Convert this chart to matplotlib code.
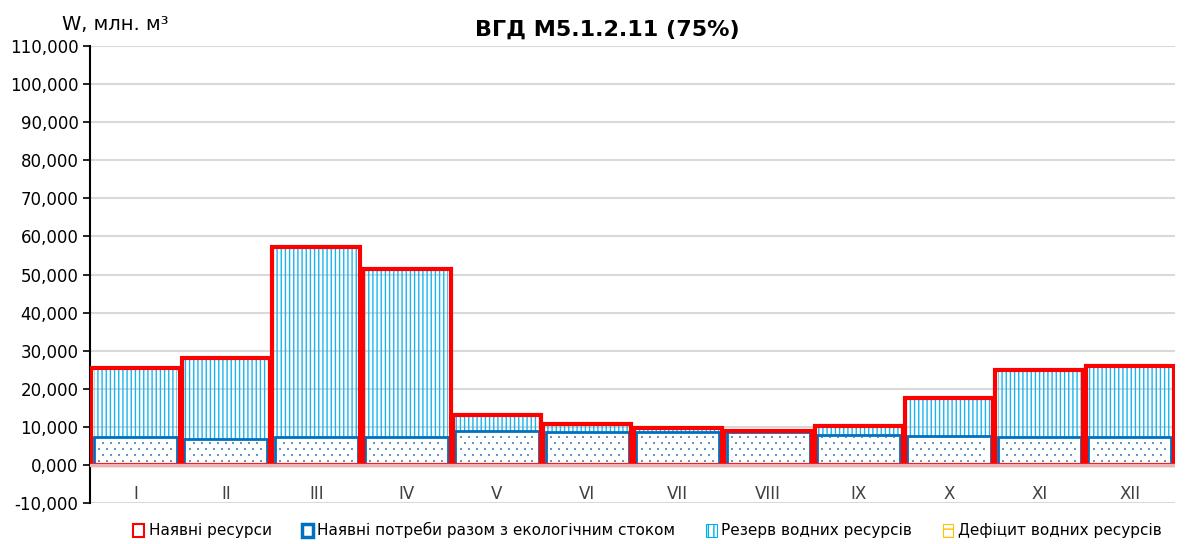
import numpy as np
import matplotlib.pyplot as plt
from matplotlib.patches import Patch
from matplotlib.ticker import FuncFormatter, MultipleLocator

# Дані (млн. м³)
months = ['I', 'II', 'III', 'IV', 'V', 'VI', 'VII', 'VIII', 'IX', 'X', 'XI', 'XII']
resources = [25.5, 28.1, 57.2, 51.4, 13.1, 10.8, 9.7, 8.9, 10.2, 17.6, 24.9, 26.0]
needs = [7.3, 6.8, 7.3, 7.3, 8.9, 8.6, 8.7, 8.7, 7.9, 7.6, 7.3, 7.3]
deficit = [0, 0, 0, 0, 0, 0, 0, 0, 0, 0, 0, 0]

reserve = [max(r - n, 0) for r, n in zip(resources, needs)]
x = list(range(len(months)))

plt.rcParams['font.family'] = ['DejaVu Sans']

fig = plt.figure(figsize=(11.88, 5.44), dpi=100)
ax = fig.add_axes([0.076, 0.0754, 0.913, 0.84])

W = 0.92
# Наявні потреби (точковий візерунок)
ax.bar(x, needs, width=W, color='white', edgecolor='#0070C0', linewidth=2, zorder=3)
for i, n in enumerate(needs):
    rows = np.arange(1.0, n - 0.4, 1.6)
    for k, yy in enumerate(rows):
        off = 0.0 if k % 2 == 0 else 0.044
        xs = np.arange(i - W / 2 + 0.06 + off, i + W / 2 - 0.04, 0.088)
        ax.scatter(xs, np.full(len(xs), yy), s=2.2, marker='s', color='#2E75B6',
                   alpha=0.75, linewidths=0, zorder=3)

# Резерв (вертикальні лінії)
plt.rcParams['hatch.linewidth'] = 1.0
ax.bar(x, reserve, bottom=needs, width=W, color='none', edgecolor='#19B4F0', hatch='||||',
       linewidth=0, zorder=2)
# Дефіцит
ax.bar(x, deficit, bottom=needs, width=W, color='none', edgecolor='#FFC000', hatch='--',
       linewidth=0, zorder=2)
# Наявні ресурси (червоний контур)
ax.bar(x, resources, width=0.975, color='none', edgecolor='#FF0000', linewidth=3, zorder=4)

ax.set_xlim(-0.5, len(months) - 0.5)
ax.set_ylim(-10, 110)
ax.yaxis.set_major_locator(MultipleLocator(10))
ax.yaxis.set_major_formatter(FuncFormatter(lambda v, p: f'{v:.3f}'.replace('.', ',')))
ax.grid(axis='y', color='#D9D9D9', linewidth=1.5, zorder=0)
ax.set_axisbelow(True)
ax.axhline(0, color='#ECB4B4', linewidth=2.4, zorder=5)

for s in ['top', 'right', 'bottom']:
    ax.spines[s].set_visible(False)
ax.spines['left'].set_linewidth(1.5)
ax.tick_params(axis='y', labelsize=12, length=5, width=1.2, colors='black')
ax.set_xticks([])

for i, m in enumerate(months):
    ax.text(i, -7.6, m, ha='center', va='center', fontsize=12, color='#404040')

fig.text(0.511, 0.945, 'ВГД М5.1.2.11 (75%)', ha='center', va='center', fontsize=16, fontweight='bold')
fig.text(0.052, 0.955, 'W, млн. м³', ha='left', va='center', fontsize=14)

handles = [
    Patch(facecolor='white', edgecolor='#FF0000', linewidth=1.5, label='Наявні ресурси'),
    Patch(facecolor='white', edgecolor='#0070C0', linewidth=2.5, label='Наявні потреби разом з екологічним стоком'),
    Patch(facecolor='white', edgecolor='#00B0F0', hatch='|||', linewidth=0.8, label='Резерв водних ресурсів'),
    Patch(facecolor='white', edgecolor='#FFC000', hatch='--', linewidth=0.8, label='Дефіцит водних ресурсів'),
]
fig.legend(handles=handles, loc='center', bbox_to_anchor=(0.545, 0.025), ncol=4, frameon=False,
           fontsize=11, handlelength=0.7, handleheight=0.9, handletextpad=0.3, columnspacing=2.0)

fig.savefig('out.png', dpi=100)
